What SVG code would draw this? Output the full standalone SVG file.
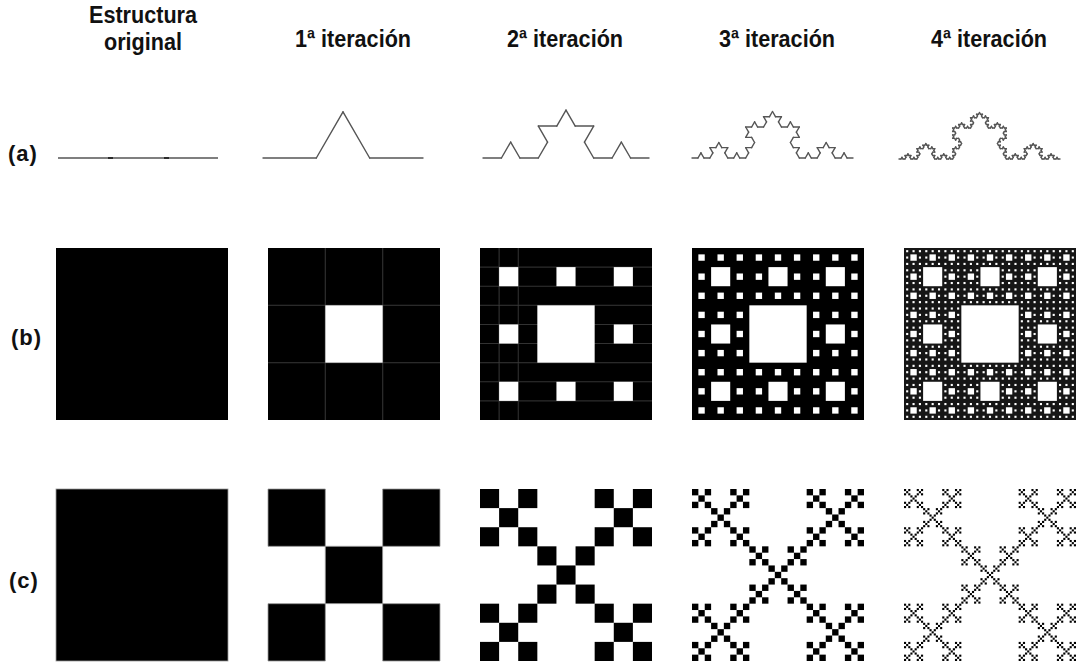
<svg xmlns="http://www.w3.org/2000/svg" xmlns:xlink="http://www.w3.org/1999/xlink" width="1076" height="662" viewBox="0 0 1076 662">
<style>
.hd{font-family:"Liberation Sans",Arial,sans-serif;font-weight:bold;font-size:24px;fill:#111;text-anchor:middle}
.rl{font-family:"Liberation Sans",Arial,sans-serif;font-weight:bold;font-size:22px;fill:#111;letter-spacing:1px}
.blk{fill:#000}
.hole{fill:#fff}
.grid{stroke:#3c3c3c;stroke-width:0.9;fill:none}
</style>
<defs>
<filter id="soft" x="-5%" y="-5%" width="110%" height="110%"><feGaussianBlur stdDeviation="0.6"/></filter>
<filter id="soft2" x="-5%" y="-5%" width="110%" height="110%"><feGaussianBlur stdDeviation="0.45"/></filter>
<line id="k0" x1="0" y1="0" x2="1" y2="0" stroke="#555" stroke-width="1.4" stroke-linecap="round" vector-effect="non-scaling-stroke"/>
<g id="k1"><use href="#k0" transform="scale(0.333333)"/><use href="#k0" transform="translate(0.333333,0) rotate(-60) scale(0.333333)"/><use href="#k0" transform="translate(0.5,-0.288675) rotate(60) scale(0.333333)"/><use href="#k0" transform="translate(0.666667,0) scale(0.333333)"/></g>
<g id="k2"><use href="#k1" transform="scale(0.333333)"/><use href="#k1" transform="translate(0.333333,0) rotate(-60) scale(0.333333)"/><use href="#k1" transform="translate(0.5,-0.288675) rotate(60) scale(0.333333)"/><use href="#k1" transform="translate(0.666667,0) scale(0.333333)"/></g>
<g id="k3"><use href="#k2" transform="scale(0.333333)"/><use href="#k2" transform="translate(0.333333,0) rotate(-60) scale(0.333333)"/><use href="#k2" transform="translate(0.5,-0.288675) rotate(60) scale(0.333333)"/><use href="#k2" transform="translate(0.666667,0) scale(0.333333)"/></g>
<g id="k4"><use href="#k3" transform="scale(0.333333)"/><use href="#k3" transform="translate(0.333333,0) rotate(-60) scale(0.333333)"/><use href="#k3" transform="translate(0.5,-0.288675) rotate(60) scale(0.333333)"/><use href="#k3" transform="translate(0.666667,0) scale(0.333333)"/></g>
<rect id="c1" class="hole" x="1" y="1" width="1" height="1"/>
<g id="c2"><rect class="hole" x="3" y="3" width="3" height="3"/><use href="#c1"/><use href="#c1" x="3"/><use href="#c1" x="6"/><use href="#c1" y="3"/><use href="#c1" x="6" y="3"/><use href="#c1" y="6"/><use href="#c1" x="3" y="6"/><use href="#c1" x="6" y="6"/></g>
<g id="c3"><rect class="hole" x="9" y="9" width="9" height="9"/><use href="#c2"/><use href="#c2" x="9"/><use href="#c2" x="18"/><use href="#c2" y="9"/><use href="#c2" x="18" y="9"/><use href="#c2" y="18"/><use href="#c2" x="9" y="18"/><use href="#c2" x="18" y="18"/></g>
<g id="c4"><rect class="hole" x="27" y="27" width="27" height="27"/><use href="#c3"/><use href="#c3" x="27"/><use href="#c3" x="54"/><use href="#c3" y="27"/><use href="#c3" x="54" y="27"/><use href="#c3" y="54"/><use href="#c3" x="27" y="54"/><use href="#c3" x="54" y="54"/></g>
<rect id="v0" class="blk" x="0" y="0" width="1" height="1"/>
<g id="v1"><use href="#v0"/><use href="#v0" x="2"/><use href="#v0" x="1" y="1"/><use href="#v0" y="2"/><use href="#v0" x="2" y="2"/></g>
<g id="v2"><use href="#v1"/><use href="#v1" x="6"/><use href="#v1" x="3" y="3"/><use href="#v1" y="6"/><use href="#v1" x="6" y="6"/></g>
<g id="v3"><use href="#v2"/><use href="#v2" x="18"/><use href="#v2" x="9" y="9"/><use href="#v2" y="18"/><use href="#v2" x="18" y="18"/></g>
<g id="v4"><use href="#v3"/><use href="#v3" x="54"/><use href="#v3" x="27" y="27"/><use href="#v3" y="54"/><use href="#v3" x="54" y="54"/></g>
</defs>
<rect width="1076" height="662" fill="#fff"/>

<g id="headers">
<text class="hd" transform="translate(143,23) scale(0.9,1)">Estructura</text>
<text class="hd" transform="translate(143,50) scale(0.9,1)">original</text>
<text class="hd" transform="translate(353,47) scale(0.9,1)">1ª iteración</text>
<text class="hd" transform="translate(565,47) scale(0.9,1)">2ª iteración</text>
<text class="hd" transform="translate(777,47) scale(0.9,1)">3ª iteración</text>
<text class="hd" transform="translate(989,47) scale(0.9,1)">4ª iteración</text>
</g>

<g id="row-labels">
<text class="rl" x="8" y="161">(a)</text>
<text class="rl" x="11" y="345">(b)</text>
<text class="rl" x="9" y="588">(c)</text>
</g>

<g id="row-a">
<g id="a0"><line x1="58" y1="158" x2="218" y2="158" stroke="#555" stroke-width="1.4"/><line x1="108" y1="158" x2="113" y2="158" stroke="#222" stroke-width="1.8"/><line x1="164" y1="158" x2="169" y2="158" stroke="#222" stroke-width="1.8"/></g>
<g id="a1"><use href="#k1" transform="translate(263,158) scale(160)"/></g>
<g id="a2"><use href="#k2" transform="translate(483,158) scale(166)"/></g>
<g id="a3"><use href="#k3" transform="translate(692,158) scale(161)"/></g>
<g id="a4"><use href="#k4" transform="translate(899,159) scale(161)"/></g>
</g>

<g id="row-b" filter="url(#soft)">
<g id="b0"><rect class="blk" x="56" y="248" width="172" height="172"/></g>
<g id="b1"><rect class="blk" x="268" y="248" width="172" height="172"/>
<path class="grid" d="M325.3 248V420M382.7 248V420M268 305.3H440M268 362.7H440"/>
<use href="#c1" transform="translate(268,248) scale(57.3333)"/></g>
<g id="b2"><rect class="blk" x="480" y="248" width="172" height="172"/>
<path class="grid" d="M499.1 248V420M518.2 248V420M480 267.1H652M480 286.2H652M480 305.3H652M480 324.4H652M480 343.6H652M480 362.7H652M480 381.8H652M480 400.9H652"/>
<use href="#c2" transform="translate(480,248) scale(19.1111)"/></g>
<g id="b3"><rect class="blk" x="692" y="248" width="172" height="172"/>
<use href="#c3" transform="translate(692,248) scale(6.37037)"/></g>
<g id="b4"><rect fill="#151515" x="904" y="248" width="172" height="172"/>
<use href="#c4" transform="translate(904,248) scale(2.123457)"/></g>
</g>

<g id="row-c">
<g id="c0"><rect class="blk" x="56" y="489" width="172" height="172" stroke="#999" stroke-width="0.8"/></g>
<g id="cc1" filter="url(#soft2)"><use href="#v1" transform="translate(268,489) scale(57.3333)"/>
<path d="M268 489h57.3v57.3h-57.3zM382.7 489h57.3v57.3h-57.3zM325.3 546.3h57.3v57.3h-57.3zM268 603.7h57.3v57.3h-57.3zM382.7 603.7h57.3v57.3h-57.3z" fill="none" stroke="#999" stroke-width="0.8"/></g>
<g id="cc2" filter="url(#soft2)"><use href="#v2" transform="translate(480,489) scale(19.1111)"/></g>
<g id="cc3" filter="url(#soft2)"><use href="#v3" transform="translate(692,489) scale(6.37037)"/></g>
<g id="cc4" filter="url(#soft2)"><use href="#v4" transform="translate(904,489) scale(2.123457)"/></g>
</g>
</svg>
